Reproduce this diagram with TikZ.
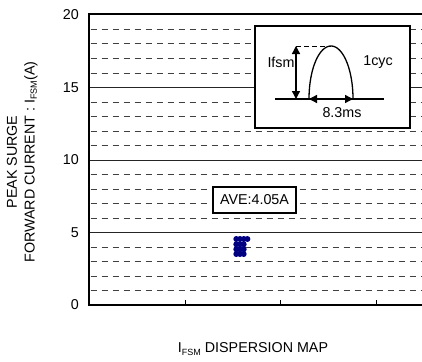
\documentclass[tikz,border=0pt]{standalone}
\usepackage{fontspec}
\setmainfont{Liberation Sans}
\usetikzlibrary{arrows.meta}
\definecolor{dotblue}{RGB}{0,0,128}
\newcommand{\subt}[1]{\raisebox{-0.3ex}{\fontsize{9}{9}\selectfont #1}}
\begin{document}
\begin{tikzpicture}[x=1pt,y=-1pt,
  lbl/.style={font=\fontsize{14.3}{16}\selectfont, inner sep=0pt},
  frameline/.style={line width=2pt},
  solidgrid/.style={line width=1pt, black!85},
  dashgrid/.style={line width=1pt, black!75, dash pattern=on 6pt off 5pt},
  boxstyle/.style={draw=black, line width=1.2pt, fill=white},
  dblarrow/.style={line width=1.3pt, {Triangle[length=8pt,width=8pt]}-{Triangle[length=8pt,width=8pt]}},
  dot/.style={circle, fill=dotblue, inner sep=0pt, minimum size=6pt}
]
\useasboundingbox (0,0) rectangle (422,361);
% grid
\foreach \v in {1,2,3,4,6,7,8,9,11,12,13,14,16,17,18,19}{
  \draw[dashgrid] (90.5,{305-14.5*\v}) -- (422,{305-14.5*\v});
}
\foreach \v in {5,10,15}{
  \draw[solidgrid] (89,{305-14.5*\v}) -- (422,{305-14.5*\v});
}
% frame
\draw[frameline] (422,14.5) -- (89,14.5) -- (89,305) -- (422,305);
\foreach \x in {185,280,376}{
  \draw[line width=0.8pt] (\x,305) -- (\x,300);
}
% tick labels
\foreach \v in {0,5,10,15,20}{
  \node[lbl, anchor=east] (t\v) at (79,{305-14.5*\v}) {\v};
}
% axis labels
\node[lbl, rotate=90] (yl1) at (12,162) {PEAK SURGE};
\node[lbl, rotate=90] (yl2) at (31,162) {FORWARD CURRENT : I\subt{FSM}(A)};
\node[lbl] (xl) at (253,349) {I\subt{FSM} DISPERSION MAP};
% inset
\node[boxstyle, minimum width=155pt, minimum height=102pt, inner sep=0pt] (inset) at (332.5,77) {};
\coordinate (base0) at (275,99);
\coordinate (base1) at (383.5,99);
\coordinate (vtop) at (296,46);
\coordinate (vbot) at (296,99);
\coordinate (peak) at (331,46);
\coordinate (hl) at (309,99);
\coordinate (hr) at (353,99);
\draw[line width=1.3pt] (base0) -- (base1);
\draw[line width=0.9pt, dash pattern=on 5pt off 3pt] (vtop) -- (peak);
\draw[line width=1.3pt] plot[domain=0:180, samples=60] ({331-22*cos(\x)},{99-53*sin(\x)});
\draw[dblarrow] (vtop) -- (vbot);
\draw[dblarrow] (hl) -- (hr);
\node[lbl] (ifsm) at (281,62) {Ifsm};
\node[lbl] (cyc) at (378,62) {1cyc};
\node[lbl] (ms) at (342,113) {8.3ms};
% AVE box
\node[boxstyle, minimum width=83pt, minimum height=26pt, inner sep=0pt, line width=1.1pt] (ave) at (254.5,200) {};
\node[lbl] (avet) at (ave.center) {AVE:4.05A};
% dots
\foreach \x in {236.3,240,243.7,247.4}{ \node[dot] at (\x,239) {}; }
\foreach \y in {244.3,249.3,254}{
  \foreach \x in {236.3,240,243.7}{ \node[dot] at (\x,\y) {}; }
}
\end{tikzpicture}
\end{document}
